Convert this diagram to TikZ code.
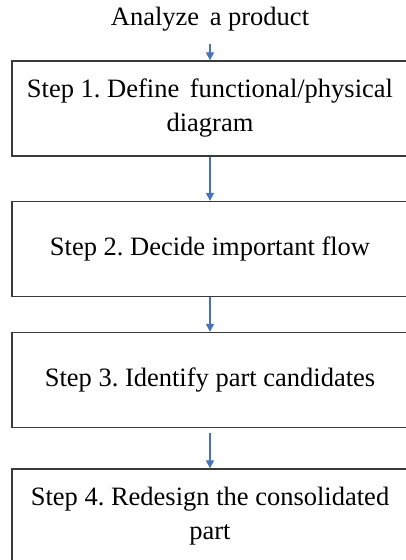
\documentclass[tikz,border=0pt]{standalone}
\usepackage{fontspec}
\setmainfont{Liberation Serif}
\usetikzlibrary{arrows.meta}
\definecolor{flowblue}{HTML}{4472C4}
\definecolor{boxline}{HTML}{3A3A3A}
\frenchspacing
\begin{document}
\begin{tikzpicture}[x=1pt, y=1pt,
    stepbox/.style={draw=boxline, line width=1.3pt, minimum width=396pt, minimum height=95pt, align=center, inner sep=0pt, font=\fontsize{26.5}{34}\selectfont},
    flow/.style={draw=flowblue, line width=1.1pt, -{Triangle[length=8pt, width=8pt]}}]
  \useasboundingbox (0,0) rectangle (406,-560);

  \node[font=\fontsize{26.5}{34}\selectfont] (start) at (210,-19) {Analyze\hspace{4pt} a product};
  \node[stepbox] (s1) at (210,-108.5) {Step 1. Define\hspace{4pt} functional/physical\\diagram};
  \node[stepbox] (s2) at (210,-249) {Step 2. Decide important flow};
  \node[stepbox] (s3) at (210,-380) {Step 3. Identify part candidates};
  \node[stepbox] (s4) at (210,-516.5) {Step 4. Redesign the consolidated\\part};

  \draw[flow] (start.south) ++(0,-9) -- (s1.north);
  \draw[flow] (s1) -- (s2);
  \draw[flow] (s2) -- (s3);
  \draw[flow, shorten <=5pt] (s3) -- (s4);
\end{tikzpicture}
\end{document}
